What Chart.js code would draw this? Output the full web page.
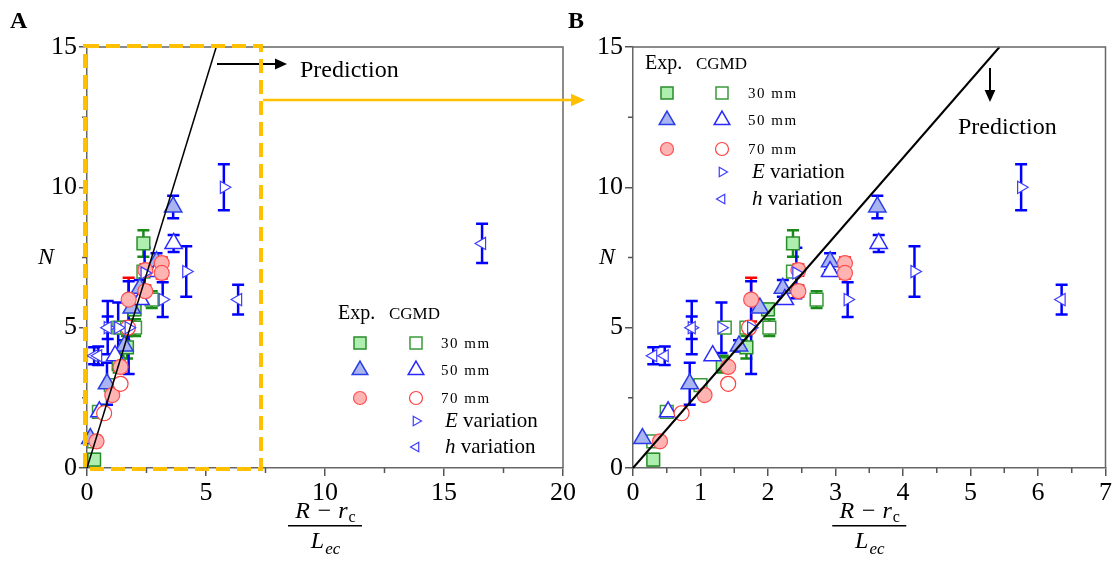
<!DOCTYPE html>
<html>
<head>
<meta charset="utf-8">
<script src="https://cdn.jsdelivr.net/npm/chart.js@4.4.0/dist/chart.umd.min.js"></script>
<style>
  html, body { margin: 0; padding: 0; background: #fff; }
  #wrap { position: relative; width: 1117px; height: 580px; overflow: hidden; }
  canvas { position: absolute; top: 0; }
  #cA { left: 0; }
  #cB { left: 560px; }
</style>
</head>
<body>
<div id="wrap">
  <canvas id="cA" width="600" height="580"></canvas>
  <canvas id="cB" width="557" height="580"></canvas>
</div>
<script>
// prediction line (through origin)
const predX = [0, 5.43];
const predY = [0, 15];

// each point: [x, N, error]
const exp30mm = [[0.30, 0.30, 0.2], [1.33, 3.70, 0.3], [1.68, 4.30, 0.4], [2.00, 5.65, 0.2], [2.37, 8.00, 0.47]];
const cgmd30mm = [[0.30, 0.95, 0], [0.50, 2.00, 0], [1.00, 2.95, 0], [1.36, 5.00, 0], [1.68, 5.00, 0], [2.02, 5.00, 0.3], [2.37, 7.00, 0], [2.72, 6.00, 0.3]];
const exp50mm = [[0.14, 1.05, 0], [0.84, 3.00, 0.75], [1.57, 4.35, 0.2], [1.88, 5.70, 0], [2.22, 6.40, 0.3], [2.92, 7.35, 0.3], [3.62, 9.30, 0.4]];
const cgmd50mm = [[0.52, 2.00, 0], [1.18, 4.00, 0], [2.25, 6.00, 0], [2.92, 7.00, 0], [3.64, 8.00, 0.3]];
const exp70mm = [[0.40, 0.95, 0], [1.06, 2.60, 0], [1.41, 3.60, 0], [1.75, 6.00, 0.78], [2.45, 7.05, 0.2], [2.45, 6.30, 0.2], [3.14, 7.30, 0.2], [3.14, 6.95, 0.2]];
const cgmd70mm = [[0.72, 1.95, 0], [1.41, 3.00, 0], [1.72, 5.00, 0]];
const eVariation = [[0.87, 5.00, 0.95], [1.31, 5.00, 0.9], [1.75, 5.00, 1.65], [2.42, 6.95, 0.9], [3.18, 6.00, 0.62], [4.17, 7.00, 0.9], [5.75, 10.00, 0.82]];
const hVariation = [[0.30, 4.00, 0.3], [0.47, 4.00, 0.33], [0.87, 5.00, 0.4], [6.35, 6.00, 0.53], [16.6, 8.00, 0.7]];

const legendRows = ['30 mm', '50 mm', '70 mm'];

const SERIF = '"Liberation Serif", "Times New Roman", serif';
const ORANGE = '#FFC000';

const styles = {
  exp30: { pointStyle: 'rect', radius: 9, bg: '#aeeeae', border: '#2b8c2b', bw: 1.5, err: '#1a8a1a' },
  cgmd30: { pointStyle: 'rect', radius: 9, bg: '#ffffff', border: '#3a9a3a', bw: 1.5, err: '#1a8a1a' },
  exp50: { pointStyle: 'triangle', radius: 10, bg: '#aab4f0', border: '#2a3ee6', bw: 1.5, err: '#0000ff' },
  cgmd50: { pointStyle: 'triangle', radius: 10, bg: '#ffffff', border: '#2a2aff', bw: 1.5, err: '#0000ff' },
  exp70: { pointStyle: 'circle', radius: 7.5, bg: '#ffb4b4', border: '#ff5050', bw: 1.2, err: '#ff0000' },
  cgmd70: { pointStyle: 'circle', radius: 7.5, bg: '#ffffff', border: '#ff4040', bw: 1.2, err: '#ff0000' },
  eVar: { pointStyle: 'triangle', rotation: 90, radius: 7, bg: '#ffffff', border: '#3c3cff', bw: 1.2, err: '#0000ff' },
  hVar: { pointStyle: 'triangle', rotation: -90, radius: 7, bg: '#ffffff', border: '#3c3cff', bw: 1.2, err: '#0000ff' }
};

function series(arr, st, order) {
  return {
    data: arr.map(p => ({ x: p[0], y: p[1] })),
    errs: arr.map(p => p[2]),
    errColor: st.err,
    pointStyle: st.pointStyle,
    pointRotation: st.rotation || 0,
    pointRadius: st.radius,
    backgroundColor: st.bg,
    borderColor: st.border,
    borderWidth: st.bw,
    clip: false,
    order: order
  };
}

// error bars under the markers
const errorBars = {
  id: 'errorBars',
  beforeDatasetsDraw(chart) {
    const { ctx, chartArea: a, scales: { x, y } } = chart;
    ctx.save();
    ctx.beginPath();
    ctx.rect(a.left, a.top - 3, a.right - a.left, a.bottom - a.top + 6);
    ctx.clip();
    chart.data.datasets.forEach(ds => {
      if (!ds.errs) return;
      ctx.strokeStyle = ds.errColor;
      ctx.lineWidth = 2.5;
      ds.data.forEach((p, i) => {
        const e = ds.errs[i];
        if (!e) return;
        const px = x.getPixelForValue(p.x);
        const y1 = y.getPixelForValue(p.y + e);
        const y2 = y.getPixelForValue(p.y - e);
        ctx.beginPath();
        ctx.moveTo(px, y1); ctx.lineTo(px, y2);
        ctx.moveTo(px - 6, y1); ctx.lineTo(px + 6, y1);
        ctx.moveTo(px - 6, y2); ctx.lineTo(px + 6, y2);
        ctx.stroke();
      });
    });
    ctx.restore();
  }
};

// frame on top/right + minor ticks
const frame = {
  id: 'frame',
  afterDraw(chart) {
    const { ctx, chartArea: a, scales: { x, y } } = chart;
    const o = chart.options.plugins.frame;
    ctx.save();
    ctx.strokeStyle = '#666';
    ctx.lineWidth = 1.5;
    ctx.beginPath();
    ctx.moveTo(a.left, a.top); ctx.lineTo(a.right, a.top); ctx.lineTo(a.right, a.bottom);
    ctx.stroke();
    ctx.strokeStyle = '#555';
    ctx.beginPath();
    for (let v = o.xMinor; v < x.max; v += o.xStep) {
      const px = x.getPixelForValue(v);
      ctx.moveTo(px, a.bottom); ctx.lineTo(px, a.bottom + 5);
    }
    for (let v = o.yMinor; v < y.max; v += o.yStep) {
      const py = y.getPixelForValue(v);
      ctx.moveTo(a.left, py); ctx.lineTo(a.left - 5, py);
    }
    ctx.stroke();
    ctx.restore();
  }
};

function arrow(ctx, x1, y1, x2, y2, color, w, head) {
  const ang = Math.atan2(y2 - y1, x2 - x1);
  ctx.save();
  ctx.strokeStyle = color; ctx.fillStyle = color; ctx.lineWidth = w; ctx.setLineDash([]);
  ctx.beginPath();
  ctx.moveTo(x1, y1);
  ctx.lineTo(x2 - Math.cos(ang) * head * 0.8, y2 - Math.sin(ang) * head * 0.8);
  ctx.stroke();
  ctx.beginPath();
  ctx.moveTo(x2, y2);
  ctx.lineTo(x2 - head * Math.cos(ang) + head * 0.45 * Math.sin(ang), y2 - head * Math.sin(ang) - head * 0.45 * Math.cos(ang));
  ctx.lineTo(x2 - head * Math.cos(ang) - head * 0.45 * Math.sin(ang), y2 - head * Math.sin(ang) + head * 0.45 * Math.cos(ang));
  ctx.closePath();
  ctx.fill();
  ctx.restore();
}

function marker(ctx, st, x, y, r) {
  ctx.fillStyle = st.bg;
  ctx.strokeStyle = st.border;
  ctx.lineWidth = st.bw;
  Chart.helpers.drawPoint(ctx, { pointStyle: st.pointStyle, rotation: st.rotation || 0, radius: r, borderWidth: st.bw }, x, y);
}

// texts, legend, axis titles, annotations
const decor = {
  id: 'decor',
  afterDraw(chart) {
    const { ctx, chartArea: a } = chart;
    const o = chart.options.plugins.decor;
    ctx.save();
    ctx.fillStyle = '#000';
    ctx.textBaseline = 'middle';

    // panel letter
    ctx.font = 'bold 24px ' + SERIF;
    ctx.fillText(o.letter, o.letterX, 22);

    // y title (upright italic N)
    ctx.font = 'italic 24px ' + SERIF;
    ctx.textAlign = 'center';
    ctx.fillText('N', o.nX, (a.top + a.bottom) / 2);
    ctx.textAlign = 'left';

    // x title as fraction
    const cx = (a.left + a.right) / 2;
    ctx.font = 'italic 24px ' + SERIF;
    const numA = 'R \u2212 r';
    const wA = ctx.measureText(numA).width;
    ctx.font = '16px ' + SERIF;
    const wC = ctx.measureText('c').width;
    let sx = cx - (wA + wC) / 2;
    ctx.font = 'italic 24px ' + SERIF;
    ctx.fillText(numA, sx, 512);
    ctx.font = '16px ' + SERIF;
    ctx.fillText('c', sx + wA + 1, 518);
    ctx.fillRect(cx - 37, 525, 74, 1.5);
    ctx.font = 'italic 24px ' + SERIF;
    const wL = ctx.measureText('L').width;
    ctx.font = 'italic 17px ' + SERIF;
    const wE = ctx.measureText('ec').width;
    sx = cx - (wL + wE) / 2;
    ctx.font = 'italic 24px ' + SERIF;
    ctx.fillText('L', sx, 542);
    ctx.font = 'italic 17px ' + SERIF;
    ctx.fillText('ec', sx + wL + 1, 550);

    // legend
    const L = o.legend;
    ctx.font = '20px ' + SERIF;
    ctx.fillText('Exp.', L.x, L.y);
    ctx.font = '17px ' + SERIF;
    ctx.fillText('CGMD', L.x + 51, L.y + 1);
    const pairs = [['exp30', 'cgmd30'], ['exp50', 'cgmd50'], ['exp70', 'cgmd70']];
    const rad = { rect: 8.5, triangle: 9, circle: 6.5 };
    pairs.forEach((pr, i) => {
      const yy = L.rows[i];
      marker(ctx, styles[pr[0]], L.fx, yy, rad[styles[pr[0]].pointStyle]);
      marker(ctx, styles[pr[1]], L.ox, yy, rad[styles[pr[1]].pointStyle]);
      ctx.fillStyle = '#000';
      ctx.font = '15px ' + SERIF;
      ctx.letterSpacing = '1.5px';
      ctx.fillText(legendRows[i], L.tx, yy + 1);
      ctx.letterSpacing = '0px';
    });
    marker(ctx, styles.eVar, L.ox, L.eY, 5.5);
    marker(ctx, styles.hVar, L.ox, L.hY, 5.5);
    ctx.fillStyle = '#000';
    [['E', L.eY], ['h', L.hY]].forEach(([sym, yy]) => {
      ctx.font = 'italic 21px ' + SERIF;
      ctx.fillText(sym, L.vx, yy);
      const w = ctx.measureText(sym).width;
      ctx.font = '21px ' + SERIF;
      ctx.fillText(' variation', L.vx + w, yy);
    });

    // prediction note
    ctx.font = '24px ' + SERIF;
    ctx.fillText('Prediction', o.pred.tx, o.pred.ty);
    arrow(ctx, o.pred.ax1, o.pred.ay1, o.pred.ax2, o.pred.ay2, '#000', 2, 12);

    // zoom box (panel A only)
    if (o.zoomBox) {
      ctx.save();
      ctx.strokeStyle = ORANGE;
      ctx.lineWidth = 4;
      ctx.setLineDash([14, 7]);
      ctx.strokeRect(85, 46, 176, 423);
      ctx.restore();
      arrow(ctx, 263, 100, 585, 100, ORANGE, 2.5, 14);
    }
    ctx.restore();
  }
};

function makeChart(id, cfg) {
  const tickFont = { family: SERIF, size: 26 };
  const datasets = [
    {
      data: predX.map((v, i) => ({ x: v, y: predY[i] })),
      showLine: true, pointRadius: 0, borderColor: '#000', borderWidth: cfg.lineW,
      clip: false, order: 0
    },
    series(exp30mm, styles.exp30, 8),
    series(cgmd30mm, styles.cgmd30, 7),
    series(exp50mm, styles.exp50, 6),
    series(cgmd50mm, styles.cgmd50, 5),
    series(exp70mm, styles.exp70, 4),
    series(cgmd70mm, styles.cgmd70, 3),
    series(eVariation, styles.eVar, 2),
    series(hVariation, styles.hVar, 1)
  ];
  return new Chart(document.getElementById(id), {
    type: 'scatter',
    data: { datasets },
    options: {
      responsive: false,
      animation: false,
      events: [],
      layout: { padding: { top: 47, right: cfg.padRight, left: 0, bottom: 0 } },
      scales: {
        x: {
          type: 'linear', min: 0, max: cfg.xMax,
          afterFit: s => { s.height = 112; },
          ticks: { stepSize: cfg.xStep, font: tickFont, color: '#000', padding: 2, maxRotation: 0 },
          grid: { drawOnChartArea: false, tickLength: 8, color: '#555', lineWidth: 1.5 },
          border: { color: '#666', width: 1.5 }
        },
        y: {
          type: 'linear', min: 0, max: 15,
          afterFit: s => { s.width = cfg.yWidth; },
          ticks: { stepSize: 5, font: tickFont, color: '#000', padding: 2 },
          grid: { drawOnChartArea: false, tickLength: 8, color: '#555', lineWidth: 1.5 },
          border: { color: '#666', width: 1.5 }
        }
      },
      plugins: {
        legend: { display: false },
        tooltip: { enabled: false },
        frame: { xMinor: cfg.xStep / 2, xStep: cfg.xStep, yMinor: 2.5, yStep: 5 },
        decor: cfg.decor
      }
    },
    plugins: [errorBars, frame, decor]
  });
}

window.onload = function() {
  makeChart('cA', {
    xMax: 20, xStep: 5, padRight: 37, yWidth: 87, lineW: 1.5,
    decor: {
      letter: 'A', letterX: 10, nX: 46, zoomBox: true,
      legend: { x: 338, y: 314, fx: 360, ox: 416, tx: 441, rows: [343, 370, 398], eY: 421, hY: 447, vx: 445 },
      pred: { tx: 300, ty: 71, ax1: 217, ay1: 64, ax2: 287, ay2: 64 }
    }
  });
  makeChart('cB', {
    xMax: 7, xStep: 1, padRight: 11, yWidth: 73, lineW: 2,
    decor: {
      letter: 'B', letterX: 8, nX: 47, zoomBox: false,
      legend: { x: 85, y: 64, fx: 107, ox: 162, tx: 188, rows: [93, 120, 149], eY: 172, hY: 199, vx: 192 },
      pred: { tx: 398, ty: 128, ax1: 430, ay1: 68, ax2: 430, ay2: 102 }
    }
  });
};
</script>
</body>
</html>
